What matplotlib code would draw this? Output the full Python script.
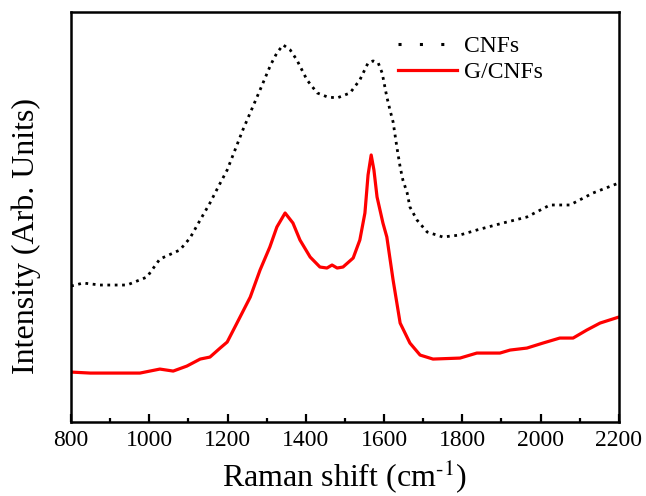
import numpy as np
import matplotlib
matplotlib.use("Agg")
import matplotlib.pyplot as plt
from matplotlib.lines import Line2D
from matplotlib.ticker import MultipleLocator

plt.rcParams['font.family'] = ['Liberation Serif', 'DejaVu Serif']
plt.rcParams['mathtext.fontset'] = 'stix'

# Datos (intensidad en unidades arbitrarias)
cnf_x = [800, 831, 874, 943, 994, 1027, 1078, 1104, 1130, 1155, 1176, 1199,
         1239, 1283, 1310, 1326, 1342, 1360, 1377, 1403, 1429, 1455, 1480,
         1513, 1538, 1559, 1572, 1585, 1595, 1607, 1615, 1623, 1633, 1641,
         1648, 1659, 1666, 1684, 1710, 1750, 1794, 1837, 1904, 1965, 2024,
         2075, 2134, 2200]
cnf_y = [144, 147, 145, 145, 153, 171, 180, 192, 210, 227, 243, 260,
         300, 340, 365, 377, 385, 380, 370, 350, 337, 333, 332,
         337, 350, 367, 369, 367, 357, 333, 320, 308, 282, 263,
         250, 237, 223, 210, 198, 193, 195, 200, 207, 213, 225,
         225, 237, 247]

gcnf_x = [800, 849, 900, 976, 1027, 1061, 1096, 1130, 1155, 1181, 1199, 1224,
          1258, 1283, 1308, 1326, 1347, 1367, 1385, 1411, 1436, 1454, 1467,
          1480, 1495, 1521, 1538, 1551, 1559, 1567, 1574, 1582, 1597, 1607,
          1623, 1641, 1666, 1692, 1725, 1794, 1837, 1896, 1922, 1965, 2006,
          2049, 2083, 2118, 2152, 2200]
gcnf_y = [58, 57, 57, 57, 61, 59, 64, 71, 73, 82, 88, 107,
          133, 160, 183, 203, 217, 207, 190, 173, 163, 162, 165,
          162, 163, 172, 190, 217, 255, 275, 260, 233, 207, 193,
          150, 107, 87, 75, 71, 72, 77, 77, 80, 82, 87,
          92, 92, 100, 107, 113]

fig = plt.figure(figsize=(6.46, 4.96), dpi=100)
ax = fig.add_axes([0.110, 0.149, 0.848, 0.827])

ax.plot(cnf_x, cnf_y, color='black', linestyle=':', linewidth=2.0)
ax.plot(gcnf_x, gcnf_y, color='red', linestyle='-', linewidth=2.3)

ax.set_xlim(800, 2200)
ax.set_ylim(8, 418)
ax.xaxis.set_major_locator(MultipleLocator(200))
ax.xaxis.set_minor_locator(MultipleLocator(100))
ax.set_yticks([])
ax.tick_params(axis='x', which='both', direction='in', top=False, width=1.6,
               labelsize=17, pad=6)
ax.tick_params(axis='x', which='major', length=5.5)
ax.tick_params(axis='x', which='minor', length=2.7)
for s in ax.spines.values():
    s.set_linewidth(1.8)

ax.set_xlabel('Raman shift (cm$^{\\text{-}1}$)', fontsize=23, labelpad=4)
ax.set_ylabel('Intensity (Arb. Units)', fontsize=23)
ax.yaxis.set_label_coords(-0.055, 0.454)

# leyenda con puntos mas separados, como en la original
handles = [Line2D([], [], color='black', linestyle=(0, (1, 6)), linewidth=2.2),
           Line2D([], [], color='red', linestyle='-', linewidth=2.3)]
ax.legend(handles, ['CNFs', 'G/CNFs'], loc='upper left',
          bbox_to_anchor=(0.58, 0.965), frameon=False, fontsize=17,
          handlelength=2.5, handletextpad=0.3, labelspacing=0.2,
          borderaxespad=0)

fig.savefig('out.png', dpi=100)
